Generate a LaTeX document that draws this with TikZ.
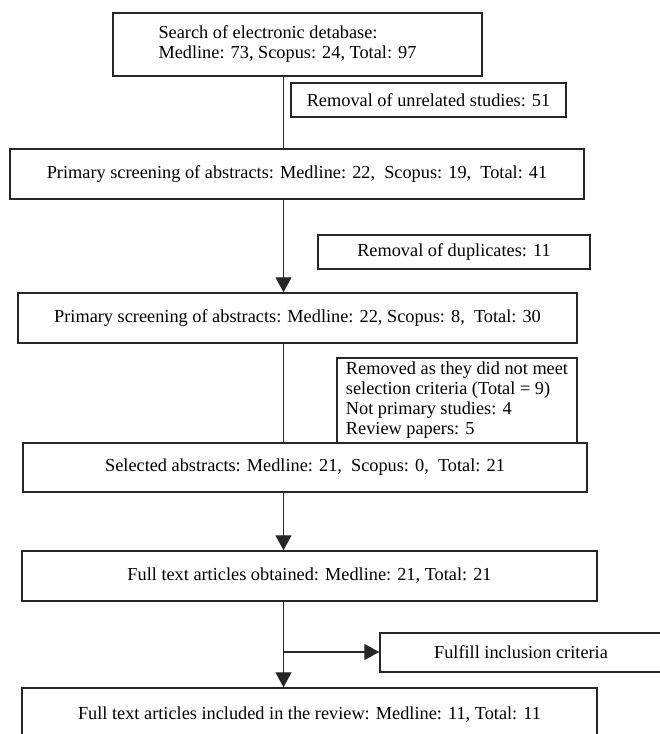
\documentclass[tikz,border=0pt]{standalone}
\usepackage{fontspec}
\setmainfont{Liberation Serif}
\usetikzlibrary{arrows.meta}
\tikzset{
  box/.style={draw=black!85, line width=1.5pt, fill=white, inner sep=0pt, align=center,
    font=\fontsize{18.3}{20}\selectfont},
  conn/.style={draw=black!85, line width=1.3pt},
  arr/.style={conn, -{Triangle[width=16pt,length=15pt]}}
}
\begin{document}
\begin{tikzpicture}[x=1pt,y=-1pt]
\useasboundingbox (0,0) rectangle (660,734);
\clip (0,0) rectangle (660,734);
\fill[white] (0,0) rectangle (660,734);
\coordinate (spine) at (283.5,0);
\coordinate (br) at (283.5,652);

\node[box, minimum width=369pt, minimum height=63pt, align=left] (b1) at (297.5,44.5)
  {Search of electronic detabase:\\Medline: 73, Scopus: 24, Total: 97\hspace*{20pt}};
\node[box, minimum width=275pt, minimum height=34pt] (r1) at (428.5,100)
  {Removal of unrelated studies: 51};
\node[box, minimum width=574pt, minimum height=50pt] (b2) at (297,174)
  {Primary screening of abstracts: Medline: 22,\ \ Scopus: 19,\ \ Total: 41};
\node[box, minimum width=272pt, minimum height=34pt] (r2) at (454,252)
  {Removal of duplicates: 11};
\node[box, minimum width=559pt, minimum height=50pt] (b3) at (297.5,318)
  {Primary screening of abstracts: Medline: 22, Scopus: 8,\ \ Total: 30};
\node[box, minimum width=240pt, minimum height=85pt, align=left] (r3) at (457,400.5)
  {Removed as they did not meet\\selection criteria (Total = 9)\\Not primary studies: 4\\Review papers: 5};
\node[box, minimum width=564pt, minimum height=49pt] (b4) at (305,467.5)
  {Selected abstracts: Medline: 21,\ \ Scopus: 0,\ \ Total: 21};
\node[box, minimum width=575pt, minimum height=50pt] (b5) at (309.5,576)
  {Full text articles obtained: Medline: 21, Total: 21};
\node[box, minimum width=282pt, minimum height=39pt] (f) at (521,652.5)
  {Fulfill inclusion criteria};
\node[box, minimum width=575pt, minimum height=54pt] (b6) at (309.5,715)
  {Full text articles included in the review: Medline: 11, Total: 11};

\draw[conn] (b1.south -| spine) -- (b2.north -| spine);
\draw[arr] (b2.south -| spine) -- (b3.north -| spine);
\draw[conn] (b3.south -| spine) -- (b4.north -| spine);
\draw[arr] (b4.south -| spine) -- (b5.north -| spine);
\draw[arr] (b5.south -| spine) -- (b6.north -| spine);
\draw[arr] (br) -- (br -| f.west);
\end{tikzpicture}
\end{document}
